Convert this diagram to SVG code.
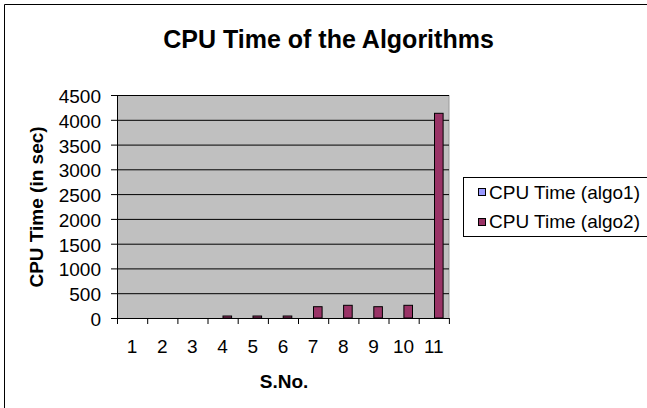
<svg xmlns="http://www.w3.org/2000/svg" width="647" height="408" viewBox="0 0 647 408">
<style>
.t{font-family:"Liberation Sans",Arial,sans-serif;fill:#000}
.tick{font-size:19px}
.yl{text-anchor:end}
.xl{text-anchor:middle}
.b{font-weight:bold}
.grid{stroke:#000;stroke-width:1}
.bar2{fill:#993366;stroke:#000;stroke-width:1}
.bar1{fill:#9999FF;stroke:#000;stroke-width:1}
</style>
<rect width="647" height="408" fill="#fff"/>
<path d="M4.5 408 V4.5 H647" fill="none" stroke="#000" stroke-width="1"/>
<g id="title"><text class="t b" x="328.5" y="48" font-size="25" text-anchor="middle">CPU Time of the Algorithms</text></g>
<g id="plot">
<rect x="117" y="95" width="332" height="223" fill="#C0C0C0"/>
<line x1="449" y1="95" x2="449" y2="318" stroke="#9a9a9a"/>
<g class="grid">
<line x1="111" y1="95.5" x2="449" y2="95.5"/>
<line x1="111" y1="120.3" x2="449" y2="120.3"/>
<line x1="111" y1="145.1" x2="449" y2="145.1"/>
<line x1="111" y1="169.8" x2="449" y2="169.8"/>
<line x1="111" y1="194.6" x2="449" y2="194.6"/>
<line x1="111" y1="219.4" x2="449" y2="219.4"/>
<line x1="111" y1="244.2" x2="449" y2="244.2"/>
<line x1="111" y1="268.9" x2="449" y2="268.9"/>
<line x1="111" y1="293.7" x2="449" y2="293.7"/>
</g>
</g>
<g id="bars">
<rect class="bar2" x="223" y="316" width="8.6" height="2"/>
<rect class="bar2" x="253" y="316" width="8.6" height="2"/>
<rect class="bar2" x="283.2" y="316" width="8.6" height="2"/>
<rect class="bar2" x="313.5" y="306.7" width="8.6" height="11.3"/>
<rect class="bar2" x="343.6" y="305.3" width="8.6" height="12.7"/>
<rect class="bar2" x="373.8" y="306.7" width="8.6" height="11.3"/>
<rect class="bar2" x="403.9" y="305.3" width="8.6" height="12.7"/>
<rect class="bar2" x="434.5" y="113.3" width="8.6" height="204.7"/>
</g>
<g id="axes" stroke="#000" stroke-width="1">
<line x1="117.5" y1="95" x2="117.5" y2="318"/>
<line x1="111" y1="318.5" x2="449" y2="318.5"/>
<path d="M117.5 318 v6 M147.7 318 v6 M177.9 318 v6 M208 318 v6 M238.2 318 v6 M268.4 318 v6 M298.5 318 v6 M328.7 318 v6 M358.9 318 v6 M389 318 v6 M419.2 318 v6 M449.4 318 v6"/>
</g>
<g id="yticks" class="t tick yl">
<text x="101" y="103">4500</text>
<text x="101" y="127.8">4000</text>
<text x="101" y="152.6">3500</text>
<text x="101" y="177.3">3000</text>
<text x="101" y="202.1">2500</text>
<text x="101" y="226.9">2000</text>
<text x="101" y="251.7">1500</text>
<text x="101" y="276.4">1000</text>
<text x="101" y="301.2">500</text>
<text x="101" y="326">0</text>
</g>
<g id="xticks" class="t tick xl">
<text x="132.1" y="353">1</text>
<text x="162.3" y="353">2</text>
<text x="192.4" y="353">3</text>
<text x="222.6" y="353">4</text>
<text x="252.8" y="353">5</text>
<text x="283" y="353">6</text>
<text x="313.1" y="353">7</text>
<text x="343.3" y="353">8</text>
<text x="373.5" y="353">9</text>
<text x="403.6" y="353">10</text>
<text x="433.8" y="353">11</text>
</g>
<g id="xtitle"><text class="t b" x="284" y="388" font-size="19" text-anchor="middle">S.No.</text></g>
<g id="ytitle"><text class="t b" font-size="19" text-anchor="middle" transform="translate(43 207) rotate(-90)">CPU Time (in sec)</text></g>
<g id="legend">
<rect x="463.5" y="177.5" width="200" height="59" fill="#fff" stroke="#000"/>
<rect class="bar1" x="478.5" y="188.5" width="7" height="7"/>
<rect class="bar2" x="478.5" y="218.5" width="7" height="7"/>
<text class="t tick" x="489" y="198.5">CPU Time (algo1)</text>
<text class="t tick" x="489" y="227.5">CPU Time (algo2)</text>
</g>
</svg>
